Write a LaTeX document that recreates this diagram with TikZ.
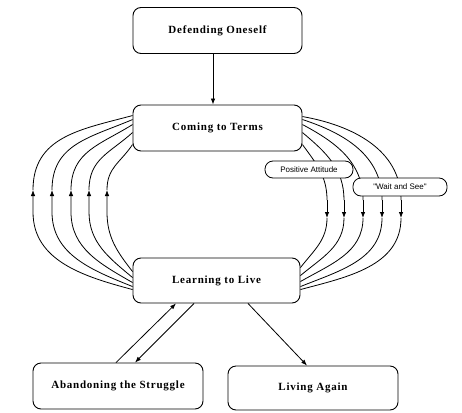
\documentclass[tikz,border=0pt]{standalone}
\usepackage{fontspec}
\setmainfont{Liberation Serif}
\newfontfamily\labelfont{Liberation Sans}
\usetikzlibrary{arrows.meta,calc}

\tikzset{
  stage/.style={draw, rounded corners=8pt, line width=0.9pt, minimum width=169pt,
    minimum height=46pt, align=center,
    font=\fontsize{11}{13}\selectfont\bfseries\addfontfeatures{LetterSpace=7}},
  tag/.style={draw, fill=white, rounded corners=8pt, line width=0.8pt,
    inner sep=1pt, font=\labelfont\fontsize{8}{9}\selectfont},
  link/.style={line width=0.8pt},
  arr/.style={line width=0.8pt, -{Latex[length=6pt,width=4.5pt]}}
}

\begin{document}
\begin{tikzpicture}[x=1pt,y=1pt]
  \useasboundingbox (0,0) rectangle (462,-412);

  % stages
  \node[stage] (def) at (217.5,-30.5) {Defending Oneself};
  \node[stage] (com) at (217.5,-128) {Coming to Terms};
  \node[stage, minimum width=167pt, minimum height=45pt] (learn) at (216.5,-280.5) {Learning to Live};
  \node[stage, minimum width=170pt] (aband) at (118,-386) {Abandoning the Struggle};
  \node[stage, minimum width=170pt, minimum height=44pt] (again) at (313,-388) {Living Again};

  % entry into the cycle
  \draw[arr] ([xshift=-4.5pt]def.south) -- ([xshift=-4.5pt]com.north);

  % left loops: Learning to Live back up to Coming to Terms
  \foreach \n/\x/\t/\b/\tin/\bout in {
      1/33/11/32/195/165,
      2/52/15/29/203/158,
      3/71/20/25/212/150,
      4/89/28/20/222/140,
      5/107/40/14/236/128} {
    \coordinate (lt\n) at ($(com.north west)+(0,-\t)$);
    \coordinate (lb\n) at ($(learn.north west)+(0,-\b)$);
    \coordinate (lm\n) at (\x,-190);
    \coordinate (lv\n) at (\x,-212);
    \draw[arr] (lb\n) to[out=\bout,in=-90] (lv\n) -- (lm\n);
    \draw[link] (lm\n) to[out=90,in=\tin,looseness=1.1] (lt\n);
  }

  % right loops: Coming to Terms down to Learning to Live
  \foreach \n/\x/\t/\b/\tout/\bin in {
      1/401/12/32/-10/15,
      2/382/15/29/-18/22,
      3/363/20/24/-28/30,
      4/344/28/18/-40/40,
      5/327/40/10/-54/52} {
    \coordinate (rt\n) at ($(com.north east)+(0,-\t)$);
    \coordinate (rb\n) at ($(learn.north east)+(0,-\b)$);
    \coordinate (rv\n) at (\x,-200);
    \coordinate (rm\n) at (\x,-218);
    \draw[link] (rt\n) to[out=\tout,in=90] (rv\n);
    \draw[arr] (rv\n) -- (rm\n);
    \draw[link] (rm\n) to[out=-90,in=\bin] (rb\n);
  }

  % labels on the right loops
  \node[tag, minimum width=88pt, minimum height=17pt] (pos) at (309,-169.5) {Positive Attitude};
  \node[tag, minimum width=94pt, minimum height=18pt] (wait) at (400,-187) {"Wait and See"};

  % exits from Learning to Live
  \draw[arr] ([xshift=-2pt]aband.north) -- ([xshift=-40.5pt]learn.south);
  \draw[arr] ([xshift=-22.5pt]learn.south) -- ([xshift=17pt]aband.north);
  \draw[arr] ([xshift=31.5pt]learn.south) -- ([xshift=-6pt]again.north);
\end{tikzpicture}
\end{document}
